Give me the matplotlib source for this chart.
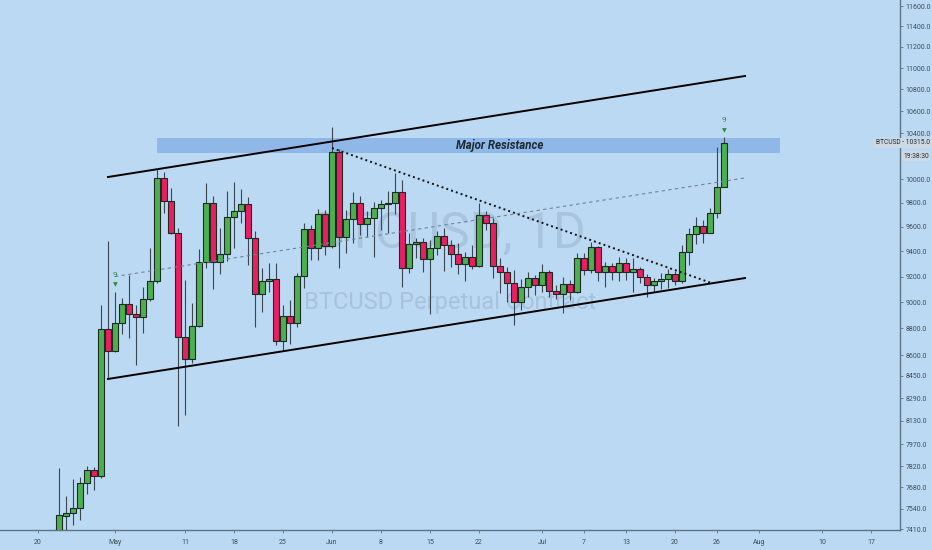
import numpy as np
import pandas as pd
import matplotlib
matplotlib.use("Agg")
import matplotlib.pyplot as plt
import matplotlib.dates as mdates
from matplotlib.ticker import FixedLocator, NullLocator, FuncFormatter
from matplotlib import font_manager

# ---------------- data ----------------
dates = pd.date_range("2020-04-23", "2020-07-27", freq="D")

opens = [7130, 7495, 7515, 7545, 7708, 7795, 7755, 8798,
         8632, 8843, 8989, 8912, 8889, 9028, 9161, 10011, 9815, 9551, 8738, 8575, 8821, 9319, 9798, 9319,
         9383, 9682, 9732, 9790, 9511, 9067, 9168, 9184, 8708, 8897, 8843, 9208, 9584, 9431, 9707,
         9447, 10236, 9519, 9666, 9798, 9625, 9674, 9757, 9790, 9795, 9891, 9271, 9463, 9479, 9343,
         9431, 9527, 9455, 9383, 9303, 9359, 9287, 9699, 9633, 9287, 9239, 9153, 9005, 9121, 9192,
         9137, 9239, 9090, 9067, 9145, 9082, 9351, 9255, 9439, 9239, 9287, 9239, 9311, 9239, 9263,
         9200, 9137, 9161, 9184, 9223, 9168, 9399, 9543, 9608, 9551, 9715, 9933]
highs = [7808, 7623, 7735, 7748, 7822, 7815, 8981, 9484,
         9082, 9036, 9216, 8980, 9121, 9431, 10097, 10062, 9925, 9592, 9176, 8997, 9423, 9968, 9857, 9592,
         9899, 9976, 9916, 9848, 9568, 9271, 9311, 9311, 8981, 9020, 9231, 9633, 9617, 9748, 9740,
         10457, 10260, 9740, 9891, 9857, 9732, 9807, 9823, 9899, 10053, 9993, 9551, 9511, 9511, 9495,
         9568, 9592, 9495, 9471, 9399, 9455, 9798, 9732, 9674, 9351, 9279, 9255, 9184, 9239, 9216,
         9303, 9255, 9137, 9200, 9176, 9391, 9391, 9479, 9445, 9319, 9311, 9359, 9351, 9351, 9279,
         9223, 9192, 9231, 9263, 9247, 9455, 9592, 9682, 9658, 9757, 10280, 10368]
lows = [7050, 7380, 7436, 7468, 7636, 7662, 7740, 8427,
        8624, 8760, 8730, 8529, 8768, 9010, 9150, 9715, 9543, 8094, 8170, 8544, 8813, 9271, 9106, 9223,
        9327, 9431, 9633, 9295, 8813, 8928, 9082, 8676, 8640, 8685, 8813, 9114, 9335, 9335, 9375,
        9431, 9271, 9391, 9471, 9535, 9519, 9359, 9576, 9551, 9707, 9121, 9231, 9351, 9239, 8912,
        9375, 9247, 9279, 9223, 9161, 9263, 9279, 9576, 9192, 9075, 9005, 8828, 8943, 9043, 9059,
        9082, 9043, 9028, 8920, 9020, 9075, 9216, 9231, 9161, 9121, 9176, 9161, 9176, 9082, 9153,
        9043, 9082, 9106, 9114, 9137, 9153, 9295, 9463, 9471, 9551, 9674, 9933]
closes = [7500, 7513, 7545, 7708, 7795, 7755, 8798, 8632,
          8843, 8989, 8912, 8889, 9028, 9161, 10011, 9815, 9551, 8738, 8575, 8821, 9319, 9798, 9319, 9383,
          9682, 9732, 9790, 9511, 9067, 9168, 9184, 8708, 8897, 8843, 9208, 9584, 9431, 9707, 9447,
          10236, 9519, 9666, 9798, 9625, 9674, 9757, 9790, 9795, 9891, 9271, 9463, 9479, 9343, 9431,
          9527, 9455, 9383, 9303, 9359, 9287, 9699, 9633, 9287, 9239, 9153, 9005, 9121, 9192, 9137,
          9239, 9090, 9067, 9145, 9082, 9351, 9255, 9439, 9239, 9287, 9239, 9311, 9239, 9263, 9200,
          9137, 9161, 9184, 9223, 9168, 9399, 9543, 9608, 9551, 9715, 9933, 10315]

# drawings
resistance_band = (10228, 10360)
resistance_span = ("2020-05-07", "2020-08-04")
upper_channel = [("2020-04-30", 10019), ("2020-07-30", 10925)]
lower_channel = [("2020-04-30", 8427), ("2020-07-30", 9188)]
down_trend = [("2020-06-01", 10271), ("2020-07-25", 9153)]
mid_dashed = [("2020-05-01", 9200), ("2020-07-30", 10011)]
signal_dates = ["2020-05-01", "2020-07-27"]

y_ticks = [7410, 7540, 7680, 7820, 7970, 8130, 8290, 8450, 8600, 8800, 9000, 9200, 9400,
           9600, 9800, 10000, 10400, 10600, 10800, 11000, 11200, 11400, 11600]
x_tick_dates = ["2020-04-20", "2020-05-01", "2020-05-11", "2020-05-18", "2020-05-25",
                "2020-06-01", "2020-06-08", "2020-06-15", "2020-06-22", "2020-07-01",
                "2020-07-07", "2020-07-13", "2020-07-20", "2020-07-26", "2020-08-01",
                "2020-08-10", "2020-08-17"]
x_tick_labels = ["20", "May", "11", "18", "25", "Jun", "8", "15", "22", "Jul", "7", "13",
                 "20", "26", "Aug", "10", "17"]
last_price = "10315.0"
countdown = "19:38:30"

# ---------------- style ----------------
names = {f.name for f in font_manager.fontManager.ttflist}
narrow = "Liberation Sans Narrow" if "Liberation Sans Narrow" in names else "Roboto"
plt.rcParams["font.family"] = [narrow, "DejaVu Sans"]

BG = "#bbd9f3"
GREEN = "#4caf50"
RED = "#e91e63"
AXC = "#5d7486"
TXT = "#3f4d59"

W, H = 932, 550
fig = plt.figure(figsize=(W / 100, H / 100), dpi=100, facecolor=BG)
ax = fig.add_axes([0, 20 / H, 900 / W, 530 / H])
ax.set_facecolor(BG)

x = mdates.date2num(dates)
o = np.array(opens, float); h = np.array(highs, float)
l = np.array(lows, float); c = np.array(closes, float)
up = c >= o
cols = np.where(up, GREEN, RED)

ax.set_yscale("log")
ax.vlines(x, l, h, color="#3b4650", lw=0.8, zorder=3)
ax.bar(x, np.abs(c - o), bottom=np.minimum(o, c), width=0.72, color=cols,
       edgecolor="#1c2a20", linewidth=0.8, zorder=4)

def dn(s):
    return mdates.date2num(pd.Timestamp(s))

# resistance band
ax.fill_between([dn(resistance_span[0]), dn(resistance_span[1])], resistance_band[0],
                resistance_band[1], color="#8fb8e8", lw=0, zorder=2)
ax.text(dn("2020-06-25"), np.sqrt(resistance_band[0] * resistance_band[1]), "Major Resistance",
        ha="center", va="center", fontsize=8.3, fontweight="bold", fontstyle="italic",
        color="#1d2833", zorder=6)

for seg, kw in [(upper_channel, dict(color="black", lw=1.4)),
                (lower_channel, dict(color="black", lw=1.4)),
                (down_trend, dict(color="#111111", lw=1.4, linestyle=(0, (1, 1.6)))),
                (mid_dashed, dict(color="#6f8499", lw=0.8, linestyle=(0, (3, 3))))]:
    ax.plot([dn(seg[0][0]), dn(seg[1][0])], [seg[0][1], seg[1][1]], zorder=5, **kw)

# signal markers
for s in signal_dates:
    i = list(dates).index(pd.Timestamp(s))
    ax.annotate("\u25BC", xy=(x[i], h[i]), xytext=(0, 3), textcoords="offset points",
                ha="center", va="bottom", fontsize=4.5, color="#2e8b3a",
                family=["DejaVu Sans"], zorder=6)
    ax.annotate("9", xy=(x[i], h[i]), xytext=(0, 10), textcoords="offset points",
                ha="center", va="bottom", fontsize=6, color="#3c8a4a", zorder=6)

# watermark
ax.text(0.5, 0.56, "BTCUSD, 1D", transform=ax.transAxes, ha="center", va="center",
        fontsize=36, color="#8ea8c0", alpha=0.4, zorder=1)
ax.text(0.5, 0.43, "BTCUSD Perpetual Contract", transform=ax.transAxes, ha="center",
        va="center", fontsize=17, color="#8ea8c0", alpha=0.45, zorder=1)

# axes
x0 = dn("2020-04-20")
ax.set_xlim(x0 - 38 / 7, x0 + (900 - 38) / 7)
ax.set_ylim(7404, 11660)
ax.yaxis.tick_right()
ax.yaxis.set_major_locator(FixedLocator(y_ticks))
ax.yaxis.set_minor_locator(NullLocator())
ax.yaxis.set_major_formatter(FuncFormatter(lambda v, p: f"{v:.1f}"))
ax.set_xticks([dn(d) for d in x_tick_dates])
ax.set_xticklabels(x_tick_labels)
ax.tick_params(axis="both", colors=AXC, labelcolor=TXT, labelsize=5, length=2.5, width=0.6, pad=1.5)
ax.tick_params(axis="x", pad=4)
for sp in ["top", "left"]:
    ax.spines[sp].set_visible(False)
for sp in ["right", "bottom"]:
    ax.spines[sp].set_color(AXC)
    ax.spines[sp].set_linewidth(1.0)

# last price label
fig.text(930 / W, 1 - 143 / H, f"BTCUSD - {last_price}", ha="right", va="center", fontsize=4.8,
         color="#1e2a33", bbox=dict(boxstyle="square,pad=0.25", fc="#cfd9e3", ec="none"))
fig.text(929 / W, 1 - 156 / H, countdown, ha="right", va="center", fontsize=4.8,
         color="#1e2a33", bbox=dict(boxstyle="square,pad=0.2", fc="#cfd9e3", ec="none"))

fig.savefig("out.png", dpi=100, facecolor=BG)
